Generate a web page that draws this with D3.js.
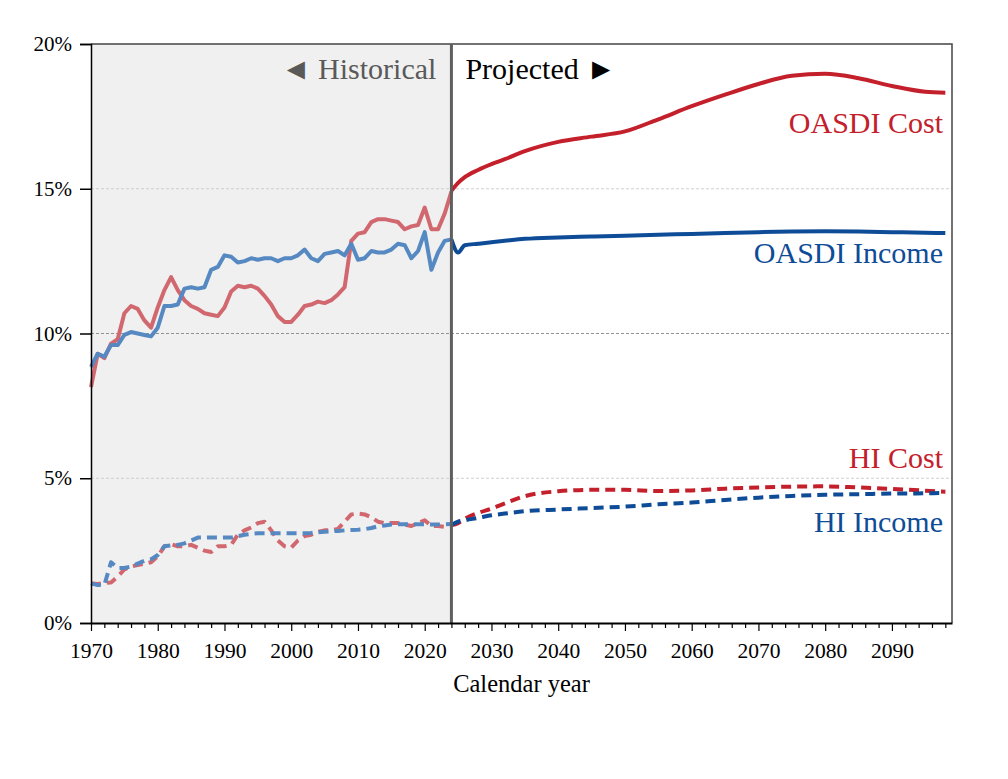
<!DOCTYPE html>
<html>
<head>
<meta charset="utf-8">
<script src="https://cdn.jsdelivr.net/npm/d3@7"></script>
<style>
  body { margin: 0; background: #fff; }
  svg { font-family: "Liberation Serif", "Times New Roman", serif; }
</style>
</head>
<body>
<script>
const W = 1008
const H = 779
const m = { top: 44, right: 56, bottom: 156, left: 91 }

// historical years 1970..2024
const histYears = d3.range(1970, 2025)

const oasdiCostHist = [8.15, 9.3, 9.15, 9.65, 9.8, 10.7, 10.95, 10.85, 10.45, 10.2,
  10.9, 11.5, 11.95, 11.5, 11.15, 10.95, 10.85, 10.7, 10.65, 10.6,
  10.9, 11.45, 11.65, 11.6, 11.65, 11.55, 11.3, 11.0, 10.6, 10.4,
  10.4, 10.65, 10.95, 11.0, 11.1, 11.05, 11.15, 11.35, 11.6, 13.2,
  13.45, 13.5, 13.85, 13.95, 13.95, 13.9, 13.85, 13.6, 13.7, 13.75,
  14.35, 13.6, 13.6, 14.15, 14.9]

const oasdiIncomeHist = [8.85, 9.3, 9.2, 9.6, 9.6, 9.95, 10.05, 10.0, 9.95, 9.9,
  10.2, 10.95, 10.95, 11.0, 11.55, 11.6, 11.55, 11.6, 12.2, 12.3,
  12.7, 12.65, 12.45, 12.5, 12.6, 12.55, 12.6, 12.6, 12.5, 12.6,
  12.6, 12.7, 12.9, 12.6, 12.5, 12.75, 12.8, 12.85, 12.7, 13.1,
  12.55, 12.6, 12.85, 12.8, 12.8, 12.9, 13.1, 13.05, 12.6, 12.85,
  13.5, 12.2, 12.8, 13.2, 13.25]

const hiCostHist = [1.37, 1.35, 1.38, 1.4, 1.6, 1.85, 1.95, 2.0, 2.05, 2.1,
  2.3, 2.65, 2.72, 2.65, 2.65, 2.7, 2.6, 2.5, 2.45, 2.65,
  2.65, 2.7, 3.05, 3.2, 3.3, 3.45, 3.5, 3.2, 2.85, 2.65,
  2.6, 2.85, 3.0, 3.05, 3.15, 3.2, 3.2, 3.25, 3.5, 3.75,
  3.78, 3.75, 3.65, 3.5, 3.45, 3.45, 3.45, 3.4, 3.35, 3.45,
  3.55, 3.35, 3.35, 3.32, 3.35]

const hiIncomeHist = [1.37, 1.31, 1.31, 2.1, 1.9, 1.9, 1.95, 2.05, 2.15, 2.2,
  2.35, 2.65, 2.68, 2.7, 2.75, 2.85, 2.95, 2.95, 2.95, 2.95,
  2.95, 2.95, 3.0, 3.05, 3.08, 3.1, 3.1, 3.1, 3.1, 3.1,
  3.1, 3.1, 3.1, 3.11, 3.13, 3.15, 3.17, 3.18, 3.2, 3.21,
  3.22, 3.24, 3.28, 3.34, 3.37, 3.4, 3.41, 3.41, 3.41, 3.41,
  3.41, 3.4, 3.4, 3.41, 3.42]

// projected years (read at key points)
const projYears = [2024, 2025, 2026, 2028, 2030, 2032, 2035, 2040, 2045, 2050,
  2055, 2060, 2065, 2070, 2075, 2080, 2085, 2090, 2095, 2098]

const oasdiCostProj = [14.93, 15.2, 15.4, 15.65, 15.85, 16.02, 16.3, 16.62, 16.8, 16.98,
  17.4, 17.85, 18.25, 18.62, 18.9, 18.97, 18.82, 18.55, 18.35, 18.32]
const oasdiIncomeProj = [13.25, 12.8, 13.05, 13.1, 13.15, 13.2, 13.27, 13.32, 13.35, 13.38,
  13.41, 13.44, 13.47, 13.5, 13.52, 13.53, 13.52, 13.5, 13.48, 13.47]
const hiCostProj = [3.38, 3.45, 3.6, 3.8, 3.95, 4.13, 4.38, 4.55, 4.6, 4.6,
  4.56, 4.58, 4.64, 4.68, 4.71, 4.72, 4.68, 4.63, 4.57, 4.53]
const hiIncomeProj = [3.38, 3.5, 3.55, 3.63, 3.72, 3.78, 3.86, 3.92, 3.97, 4.02,
  4.1, 4.16, 4.25, 4.33, 4.39, 4.43, 4.45, 4.47, 4.48, 4.49]

const yTicks = [0, 5, 10, 15, 20]
const xLabelYears = d3.range(1970, 2100, 10)
const xTickYears = d3.range(1970, 2100, 2)
const splitYear = 2024

const svg = d3.select('body').append('svg')
  .attr('width', W)
  .attr('height', H)

const iw = W - m.left - m.right
const ih = H - m.top - m.bottom
const g = svg.append('g').attr('transform', `translate(${m.left},${m.top})`)

const x = d3.scaleLinear().domain([1970, 2099]).range([0, iw])
const y = d3.scaleLinear().domain([0, 20]).range([ih, 0])

// historical shading
g.append('rect')
  .attr('x', 0).attr('y', 0)
  .attr('width', x(splitYear)).attr('height', ih)
  .attr('fill', '#f0f0f0')

// grid lines
g.selectAll('.grid')
  .data([5, 10, 15])
  .enter()
  .append('line')
  .attr('x1', 0).attr('x2', iw)
  .attr('y1', d => y(d)).attr('y2', d => y(d))
  .attr('stroke', d => d === 10 ? '#777' : '#c4c4c4')
  .attr('stroke-width', 0.8)
  .attr('stroke-dasharray', '3,2')

// frame top & right
g.append('path')
  .attr('d', `M0,0H${iw}V${ih}`)
  .attr('fill', 'none')
  .attr('stroke', '#444')
  .attr('stroke-width', 1.5)

// series
const series = [
  { hist: oasdiCostHist, proj: oasdiCostProj, light: '#d2686f', dark: '#c4202c', dash: null },
  { hist: oasdiIncomeHist, proj: oasdiIncomeProj, light: '#5689c2', dark: '#0f4c97', dash: null },
  { hist: hiCostHist, proj: hiCostProj, light: '#d2686f', dark: '#c4202c', dash: '10,6' },
  { hist: hiIncomeHist, proj: hiIncomeProj, light: '#5689c2', dark: '#0f4c97', dash: '10,6' }
]

const line = d3.line()
  .x(d => x(d[0]))
  .y(d => y(d[1]))

const smooth = d3.line()
  .x(d => x(d[0]))
  .y(d => y(d[1]))
  .curve(d3.curveMonotoneX)

series.forEach(s => {
  g.append('path')
    .datum(histYears.map((yr, i) => [yr, s.hist[i]]))
    .attr('d', line)
    .attr('fill', 'none')
    .attr('stroke', s.light)
    .attr('stroke-width', 4)
    .attr('stroke-linejoin', 'round')
    .attr('stroke-dasharray', s.dash)
  g.append('path')
    .datum(projYears.map((yr, i) => [yr, s.proj[i]]))
    .attr('d', smooth)
    .attr('fill', 'none')
    .attr('stroke', s.dark)
    .attr('stroke-width', 4)
    .attr('stroke-linejoin', 'round')
    .attr('stroke-dasharray', s.dash)
})

// divider
g.append('line')
  .attr('x1', x(splitYear)).attr('x2', x(splitYear))
  .attr('y1', 0).attr('y2', ih)
  .attr('stroke', '#5f5f5f')
  .attr('stroke-width', 3)

// y axis
const yAxis = g.append('g')
  .call(d3.axisLeft(y).tickValues(yTicks).tickFormat(d => d + '%').tickSize(11).tickPadding(8))
yAxis.select('.domain').attr('stroke', '#000').attr('stroke-width', 1.5)
yAxis.selectAll('.tick line').attr('stroke', '#000').attr('stroke-width', 1.5)
yAxis.selectAll('text')
  .attr('font-family', '"Liberation Serif", serif')
  .attr('font-size', 21)
  .attr('fill', '#000')

// x axis
const xAxis = g.append('g')
  .attr('transform', `translate(0,${ih})`)
  .call(d3.axisBottom(x).tickValues(xTickYears)
    .tickFormat(d => xLabelYears.includes(d) ? d : '')
    .tickSize(5).tickSizeOuter(0))
xAxis.select('.domain').attr('stroke', '#000').attr('stroke-width', 2)
xAxis.selectAll('.tick line')
  .attr('stroke', '#000')
  .attr('stroke-width', 1.2)
  .attr('y2', d => d % 10 === 0 ? 8 : 5)
xAxis.selectAll('text')
  .attr('font-family', '"Liberation Serif", serif')
  .attr('font-size', 21.5)
  .attr('fill', '#000')
  .attr('y', 35)
  .attr('dy', 0)

g.append('text')
  .attr('x', iw / 2)
  .attr('y', ih + 69)
  .attr('text-anchor', 'middle')
  .attr('font-size', 24.5)
  .text('Calendar year')

// region labels
g.append('text')
  .attr('x', x(splitYear) - 15)
  .attr('y', 35)
  .attr('text-anchor', 'end')
  .attr('font-size', 30)
  .attr('fill', '#595959')
  .text('◄ Historical')
g.append('text')
  .attr('x', x(splitYear) + 14)
  .attr('y', 35)
  .attr('text-anchor', 'start')
  .attr('font-size', 30)
  .attr('fill', '#000')
  .text('Projected ►')

// series labels
const labels = [
  { text: 'OASDI Cost', v: 16.93, color: '#c4202c' },
  { text: 'OASDI Income', v: 12.44, color: '#0f4c97' },
  { text: 'HI Cost', v: 5.35, color: '#c4202c' },
  { text: 'HI Income', v: 3.16, color: '#0f4c97' }
]
g.selectAll('.lbl')
  .data(labels)
  .enter()
  .append('text')
  .attr('x', iw - 9)
  .attr('y', d => y(d.v))
  .attr('text-anchor', 'end')
  .attr('font-size', 30)
  .attr('fill', d => d.color)
  .text(d => d.text)
</script>
</body>
</html>
